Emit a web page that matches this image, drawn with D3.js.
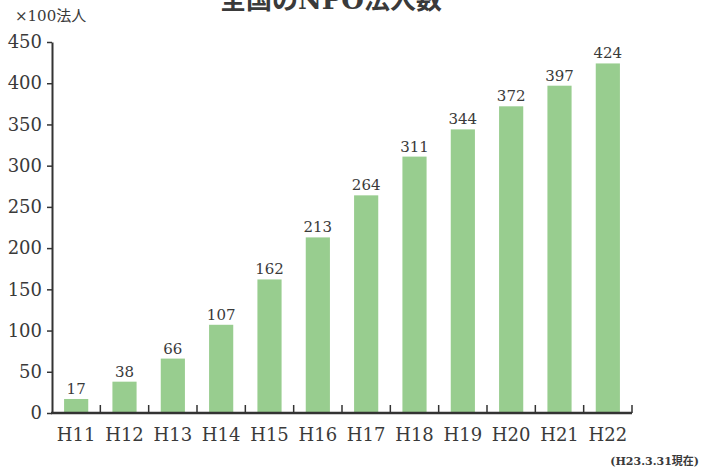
<!DOCTYPE html>
<meta http-equiv="content-type" content="text/html; charset=utf-8">
<style>
body { margin:0; background:#fff; }
text { fill:#3a3a3a; }
.serif { font-family:"DejaVu Serif", "Noto Sans CJK JP", serif; }
</style>
<body>
<div id="chart"></div>
<script src="https://d3js.org/d3.v7.min.js"></script>
<script>
var years = ["H11","H12","H13","H14","H15","H16","H17","H18","H19","H20","H21","H22"];
var counts = [17, 38, 66, 107, 162, 213, 264, 311, 344, 372, 397, 424];
var yTicks = [0, 50, 100, 150, 200, 250, 300, 350, 400, 450];

var width = 702, height = 468;
var plotLeft = 52, plotRight = 632, plotTop = 42, plotBottom = 413;

var svg = d3.select("#chart").append("svg")
    .attr("width", width)
    .attr("height", height);

var x = d3.scaleBand()
    .domain(years)
    .range([plotLeft, plotRight])
    .paddingInner(0.5)
    .paddingOuter(0.25);

var y = d3.scaleLinear()
    .domain([0, 450])
    .range([plotBottom, plotTop]);

// bars
svg.selectAll("rect.bar")
  .data(counts)
  .enter().append("rect")
    .attr("class", "bar")
    .attr("x", function(d, i) { return x(years[i]); })
    .attr("width", x.bandwidth())
    .attr("y", function(d) { return y(d); })
    .attr("height", function(d) { return y(0) - y(d); })
    .attr("fill", "#98cd8f");

// value labels
svg.selectAll("text.val")
  .data(counts)
  .enter().append("text")
    .attr("class", "val serif")
    .attr("x", function(d, i) { return x(years[i]) + x.bandwidth() / 2; })
    .attr("y", function(d) { return y(d) - 5; })
    .attr("text-anchor", "middle")
    .attr("font-size", "15px")
    .text(function(d) { return d; });

// y axis
var yAxis = svg.append("g")
    .attr("transform", "translate(" + plotLeft + ",0)")
    .call(d3.axisLeft(y).tickValues(yTicks).tickSize(5).tickPadding(5).tickSizeOuter(0));
yAxis.selectAll("line").attr("stroke", "#333").attr("stroke-width", 1.5);
yAxis.select(".domain").attr("stroke", "#333").attr("stroke-width", 2);
yAxis.selectAll("text")
    .attr("class", "serif")
    .attr("font-size", "18px")
    .attr("fill", "#3a3a3a");

// x axis: ticks at band boundaries pointing up
var step = x.step();
var bounds = years.map(function(d, i) { return plotLeft + step * (i + 1); });
var xAxis = svg.append("g");
xAxis.append("line")
    .attr("x1", plotLeft - 1).attr("x2", plotRight)
    .attr("y1", plotBottom).attr("y2", plotBottom)
    .attr("stroke", "#333").attr("stroke-width", 2.5);
xAxis.selectAll("line.tk")
  .data(bounds)
  .enter().append("line")
    .attr("class", "tk")
    .attr("x1", function(d) { return d; }).attr("x2", function(d) { return d; })
    .attr("y1", plotBottom).attr("y2", plotBottom - 8)
    .attr("stroke", "#333").attr("stroke-width", 1.5);
xAxis.selectAll("text")
  .data(years)
  .enter().append("text")
    .attr("class", "serif")
    .attr("x", function(d) { return x(d) + x.bandwidth() / 2; })
    .attr("y", plotBottom + 28)
    .attr("text-anchor", "middle")
    .attr("font-size", "18px")
    .text(function(d) { return d; });

// title (cut off at top)
svg.append("text")
    .attr("class", "serif")
    .attr("x", 331)
    .attr("y", 9)
    .attr("text-anchor", "middle")
    .attr("font-size", "26px")
    .attr("font-weight", "bold")
    .attr("fill", "#222")
    .text("全国のNPO法人数");

// unit
svg.append("text")
    .attr("class", "serif")
    .attr("x", 15)
    .attr("y", 21)
    .attr("font-size", "15px")
    .text("×100法人");

// note
svg.append("text")
    .attr("class", "serif")
    .attr("x", 699)
    .attr("y", 465)
    .attr("text-anchor", "end")
    .attr("font-size", "11px")
    .attr("font-weight", "bold")
    .text("(H23.3.31現在)");
</script>
</body>
</html>
